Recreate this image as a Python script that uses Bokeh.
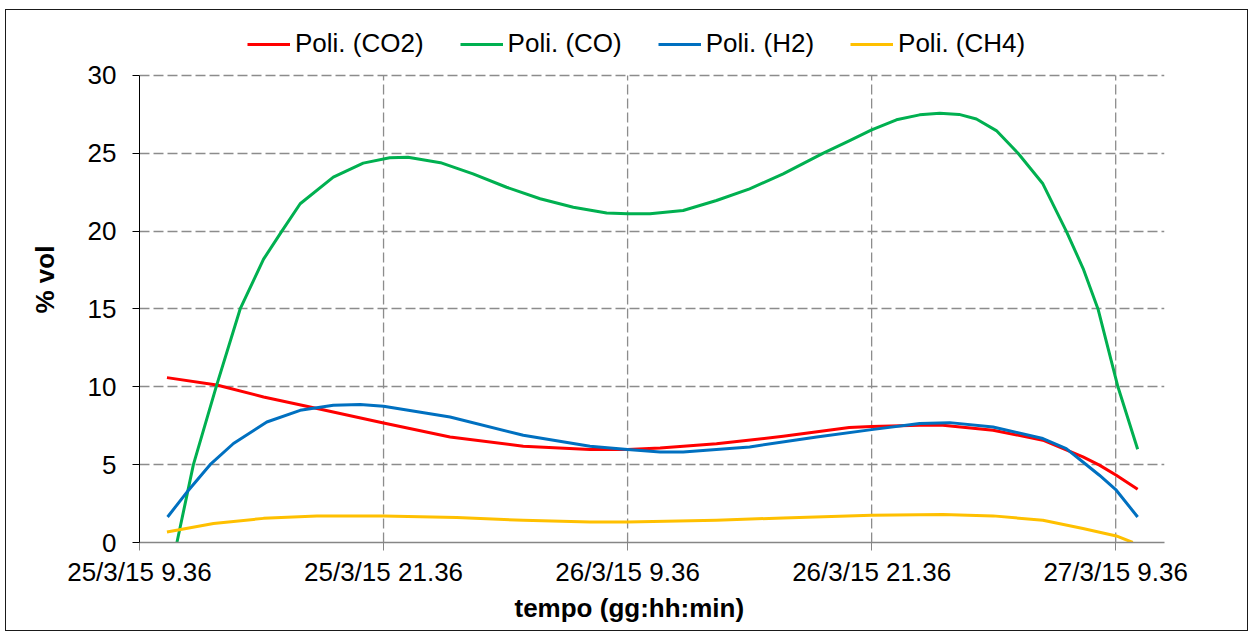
from bokeh.plotting import figure
from bokeh.models import FixedTicker, Legend, LegendItem, Title, Range1d
from bokeh.embed import file_html
from bokeh.resources import INLINE

# hours since 25/3/15 9.36
tick_hours = [0, 12, 24, 36, 48]
tick_labels = ["25/3/15 9.36", "25/3/15 21.36", "26/3/15 9.36", "26/3/15 21.36", "27/3/15 9.36"]
y_ticks = [0, 5, 10, 15, 20, 25, 30]

co2_hours = [1.35, 3.8, 6.1, 8.96, 12.0, 15.27, 18.87, 22.15, 24.0, 25.6, 28.37, 31.65,
             34.9, 36.0, 38.36, 39.5, 41.97, 44.42, 46.39, 47.2, 48.03, 49.08]
co2_values = [10.59, 10.12, 9.35, 8.54, 7.68, 6.78, 6.18, 5.97, 5.97, 6.07, 6.35, 6.82,
              7.38, 7.45, 7.53, 7.53, 7.21, 6.57, 5.5, 4.97, 4.32, 3.42]

co_hours = [1.84, 2.65, 3.77, 4.95, 6.1, 7.0, 7.9, 9.53, 11.0, 12.3, 13.2, 14.8, 16.4, 18.05,
            19.7, 21.33, 22.97, 24.0, 25.1, 26.73, 28.37, 30.0, 31.65, 33.6, 34.92, 36.0,
            37.22, 38.36, 39.35, 40.3, 41.15, 42.13, 43.2, 44.42, 45.57, 46.4, 47.13, 48.11,
            49.08]
co_values = [0.0, 5.0, 10.0, 15.0, 18.2, 20.0, 21.76, 23.47, 24.37, 24.71, 24.75, 24.4, 23.68,
             22.82, 22.08, 21.54, 21.16, 21.12, 21.12, 21.33, 21.97, 22.72, 23.68, 25.0, 25.82,
             26.5, 27.15, 27.47, 27.57, 27.5, 27.2, 26.46, 25.0, 23.04, 20.0, 17.6, 15.0, 10.0,
             5.99]

h2_hours = [1.38, 2.41, 3.47, 4.62, 6.26, 7.9, 9.53, 10.85, 12.0, 15.27, 18.87, 22.15, 24.0,
            25.6, 26.73, 30.0, 33.3, 36.0, 38.36, 39.84, 41.97, 44.42, 45.57, 46.39, 47.2,
            48.03, 49.08]
h2_values = [1.64, 3.36, 5.0, 6.36, 7.74, 8.49, 8.81, 8.86, 8.75, 8.06, 6.89, 6.18, 5.97,
             5.82, 5.82, 6.14, 6.78, 7.25, 7.64, 7.7, 7.42, 6.68, 6.03, 5.17, 4.32, 3.36, 1.64]

ch4_hours = [1.35, 3.64, 6.1, 8.72, 12.0, 15.6, 18.87, 22.15, 24.0, 28.37, 31.65, 36.0, 39.5,
             41.97, 44.42, 46.39, 48.03, 48.84]
ch4_values = [0.68, 1.22, 1.55, 1.71, 1.71, 1.6, 1.43, 1.32, 1.32, 1.43, 1.58, 1.75, 1.8,
              1.71, 1.43, 0.9, 0.42, 0.0]

series_names = ["Poli. (CO2)", "Poli. (CO)", "Poli. (H2)", "Poli. (CH4)"]
series_colors = ["#FF0000", "#00B050", "#0070C0", "#FFC000"]

FONT = "Liberation Sans"
Y_MAX = y_ticks[-1]
# frame extends above the value axis to host the legend (px per unit = 467.3/30)
Y_TOP = Y_MAX + 55 / (467.3 / 30)

p = figure(width=1243, height=622, output_backend="svg", toolbar_location=None,
           x_range=Range1d(0, 50.4), y_range=Range1d(0, Y_TOP),
           min_border_left=132, min_border_right=85, min_border_top=10, min_border_bottom=90)
p.styles = {"border": "1px solid #1a1a1a", "margin-left": "5px", "margin-top": "9px"}
p.outline_line_color = None
p.background_fill_color = "white"
p.border_fill_color = "white"

# axes
p.xaxis.ticker = FixedTicker(ticks=tick_hours)
p.xaxis.major_label_overrides = {h: l for h, l in zip(tick_hours, tick_labels)}
p.yaxis.ticker = FixedTicker(ticks=y_ticks)
p.yaxis.bounds = (0, Y_MAX)
for ax in (p.xaxis, p.yaxis):
    ax.major_label_text_font = FONT
    ax.major_label_text_font_size = "26px"
    ax.major_label_text_color = "black"
    ax.minor_tick_line_color = None
    ax.major_tick_in = 0
p.xaxis.axis_line_color = "#868686"
p.xaxis.major_tick_line_color = "#868686"
p.xaxis.axis_line_width = 1.3
p.xaxis.major_tick_out = 8
p.xaxis.major_label_standoff = 6
p.yaxis.axis_line_color = "black"
p.yaxis.major_tick_line_color = "black"
p.yaxis.major_tick_out = 7
p.yaxis.major_label_standoff = 16

# grid
p.xgrid.visible = False
p.ygrid.ticker = FixedTicker(ticks=y_ticks[1:])
p.ygrid.grid_line_color = "#8c8c8c"
p.ygrid.grid_line_dash = "10 4"
p.ygrid.grid_line_width = 1.3
vg = tick_hours[1:]
p.segment(x0=vg, y0=[0] * len(vg), x1=vg, y1=[Y_MAX] * len(vg),
          line_color="#8c8c8c", line_dash="10 4", line_width=1.3)

data = [(co2_hours, co2_values), (co_hours, co_values), (h2_hours, h2_values), (ch4_hours, ch4_values)]
items = []
for (hx, vy), name, col in zip(data, series_names, series_colors):
    r = p.line(hx, vy, line_color=col, line_width=3, line_join="round")
    items.append(LegendItem(label=name, renderers=[r]))

legend = Legend(items=items, orientation="horizontal", location=(108, 483),
                label_text_font=FONT, label_text_font_size="26px", label_text_color="black",
                glyph_width=43, glyph_height=20, label_standoff=5, spacing=36,
                padding=0, margin=0, border_line_color=None, background_fill_alpha=0)
p.add_layout(legend, "center")

p.add_layout(Title(text="tempo (gg:hh:min)", align="left", offset=375, vertical_align="top",
                   standoff=6, text_font=FONT, text_font_size="26px", text_font_style="bold",
                   text_color="black"),
             "below")
p.add_layout(Title(text="% vol", align="left", offset=229, vertical_align="top",
                   standoff=46, text_font=FONT, text_font_size="26px", text_font_style="bold",
                   text_color="black"),
             "left")

open("out.html", "w").write(file_html(p, INLINE))
